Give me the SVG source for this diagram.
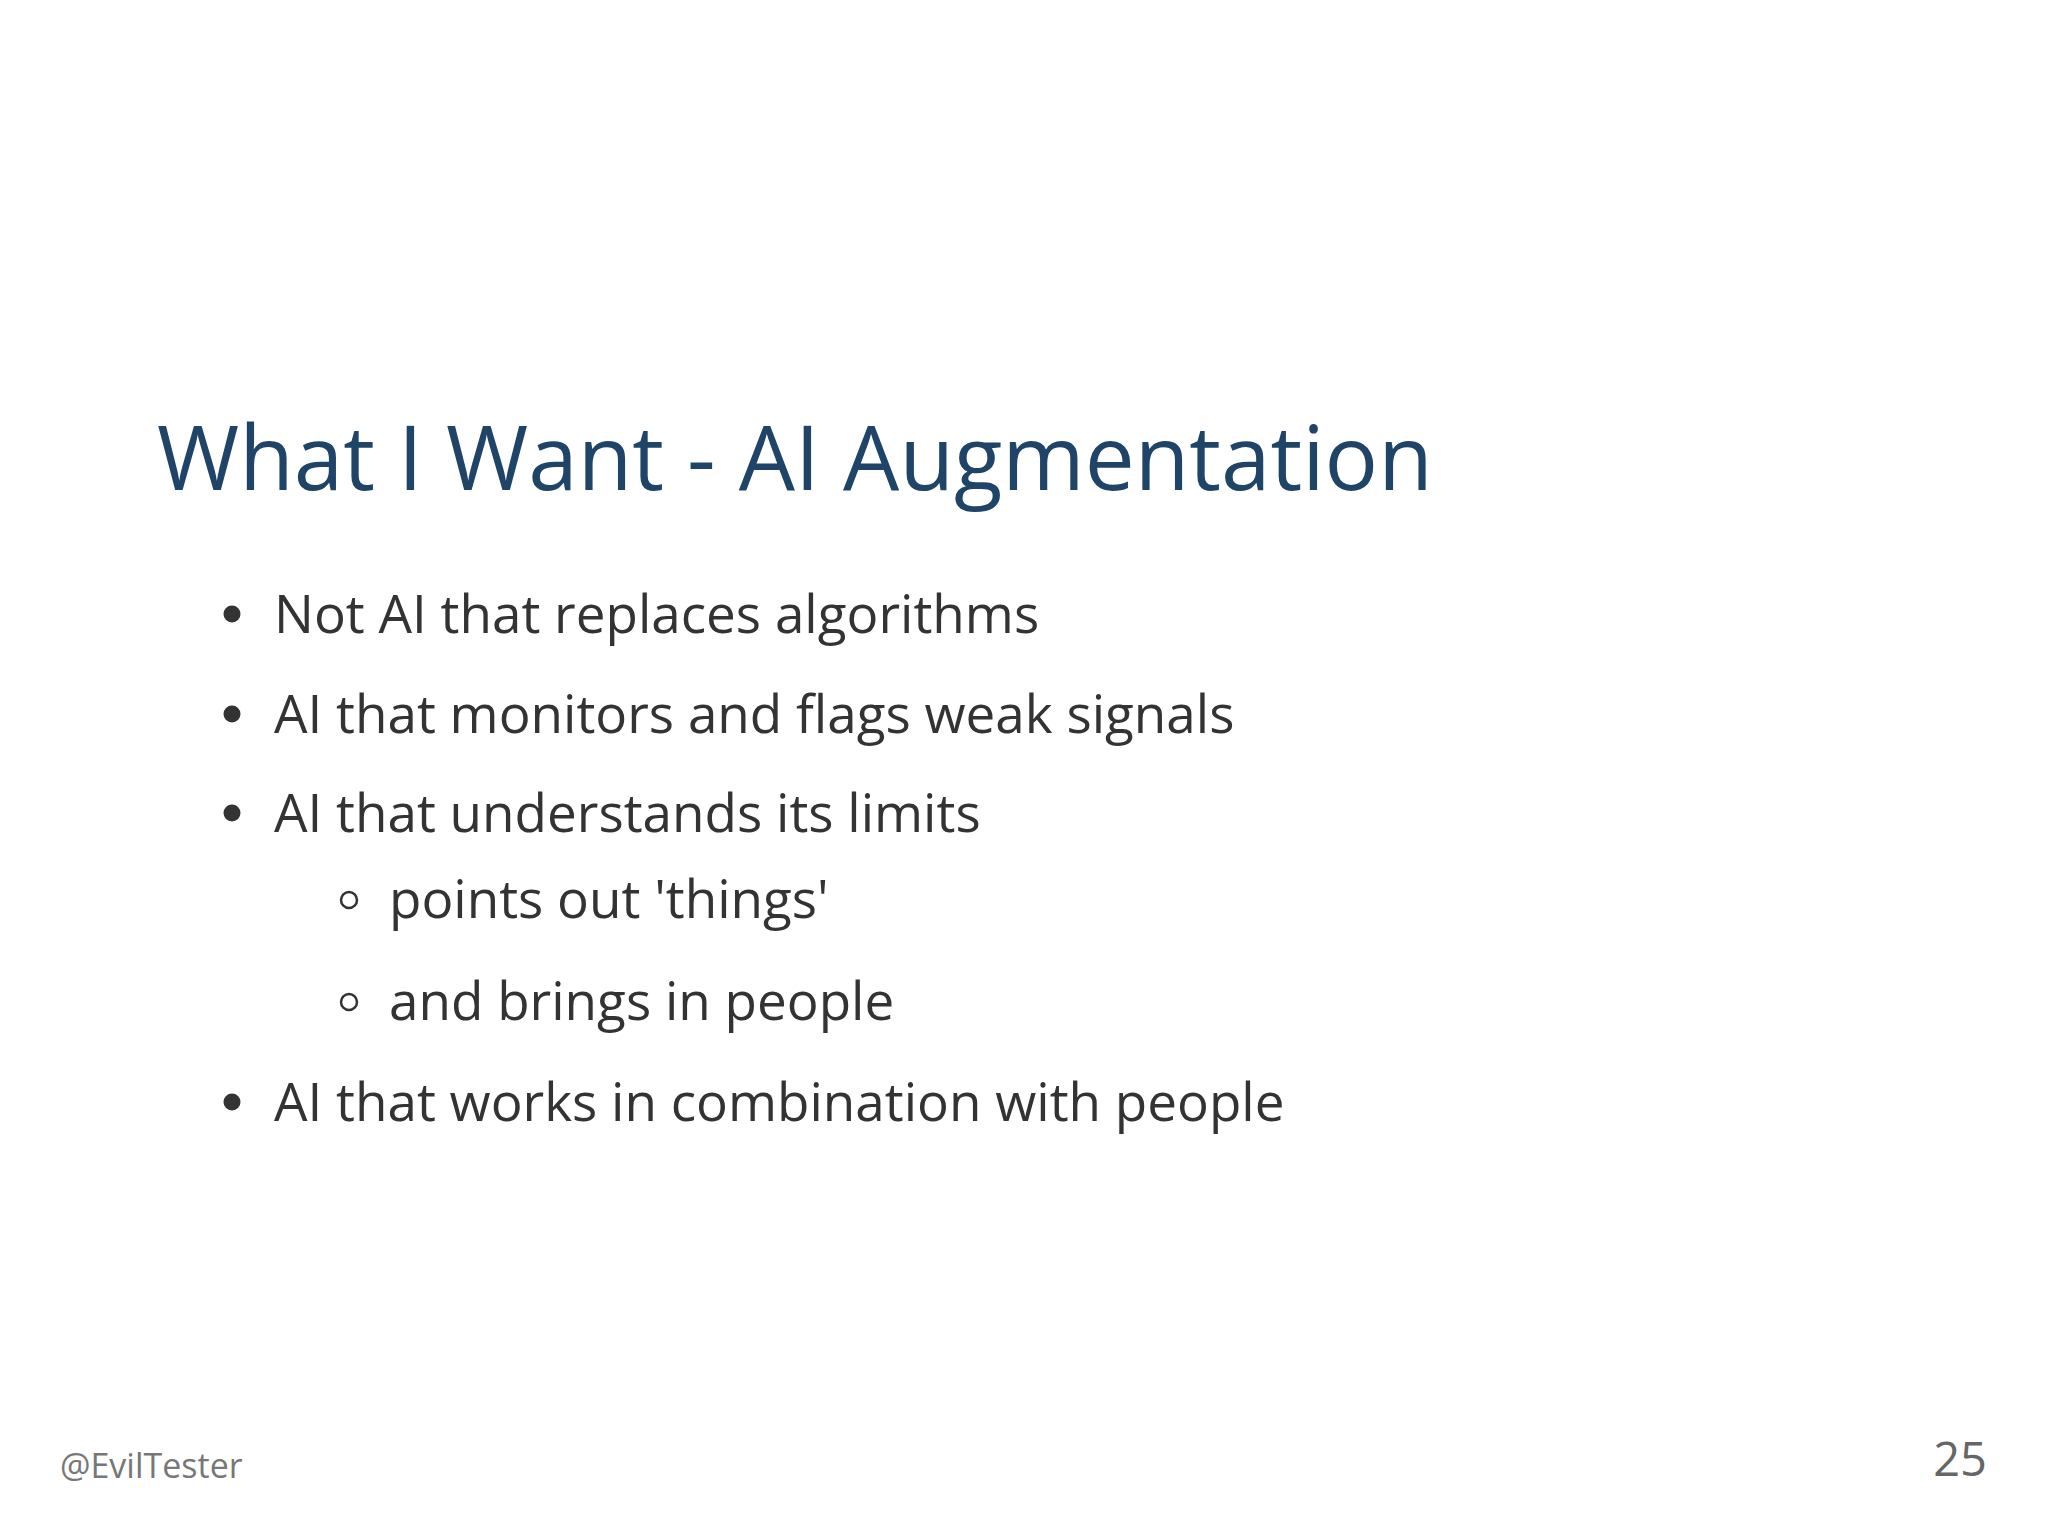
<svg xmlns="http://www.w3.org/2000/svg" width="2048" height="1538" viewBox="0 0 2048 1538">
<style>
.t{font-family:"Open Sans","Liberation Sans",sans-serif;}
.title{font-size:89px;fill:#1f4468;}
.b{font-size:53px;fill:#333333;}
.f{font-size:34px;fill:#777777;}
</style>
<rect width="2048" height="1538" fill="#ffffff"/>
<g id="title"><text class="t title" x="157" y="490">What I Want - AI Augmentation</text></g>
<g id="bullets">
<circle cx="232" cy="614" r="8.5" fill="#333"/><text class="t b" x="274" y="633">Not AI that replaces algorithms</text>
<circle cx="232" cy="714" r="8.5" fill="#333"/><text class="t b" x="274" y="733">AI that monitors and flags weak signals</text>
<circle cx="232" cy="813" r="8.5" fill="#333"/><text class="t b" x="274" y="832">AI that understands its limits</text>
<circle cx="349" cy="900" r="8" fill="none" stroke="#333" stroke-width="2.5"/><text class="t b" x="389" y="918">points out 'things'</text>
<circle cx="349" cy="1002" r="8" fill="none" stroke="#333" stroke-width="2.5"/><text class="t b" x="389" y="1020">and brings in people</text>
<circle cx="232" cy="1102" r="8.5" fill="#333"/><text class="t b" x="274" y="1121">AI that works in combination with people</text>
</g>
<g id="footer">
<text class="t f" x="60" y="1478">@EvilTester</text>
<text class="t" x="1987" y="1476" font-size="47" fill="#666" text-anchor="end">25</text>
</g>
</svg>
